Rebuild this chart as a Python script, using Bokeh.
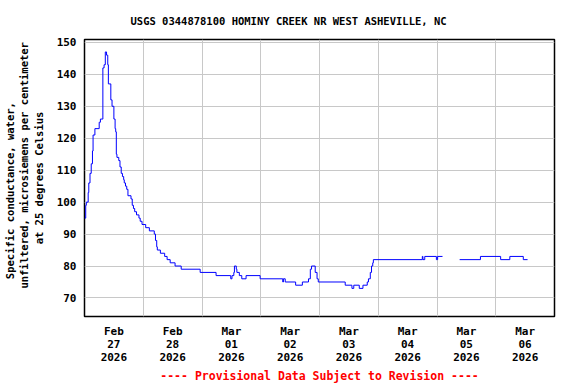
import numpy as np
import pandas as pd
from bokeh.plotting import figure
from bokeh.models import FixedTicker, Range1d, Title, ColumnDataSource
from bokeh.embed import file_html
from bokeh.resources import INLINE

TITLE = "USGS 0344878100 HOMINY CREEK NR WEST ASHEVILLE, NC"
Y_LABEL_LINES = ["Specific conductance, water,",
                 "unfiltered, microsiemens per centimeter",
                 "at 25 degrees Celsius"]
FOOTER = "---- Provisional Data Subject to Revision ----"

day_labels = ["Feb\n27\n2026", "Feb\n28\n2026", "Mar\n01\n2026", "Mar\n02\n2026",
              "Mar\n03\n2026", "Mar\n04\n2026", "Mar\n05\n2026", "Mar\n06\n2026"]
y_ticks = [70, 80, 90, 100, 110, 120, 130, 140, 150]

times = [
    "2026-02-27 00:00", "2026-02-27 00:30", "2026-02-27 00:45", "2026-02-27 01:30",
    "2026-02-27 01:45", "2026-02-27 02:15", "2026-02-27 02:45", "2026-02-27 03:15",
    "2026-02-27 03:30", "2026-02-27 04:15", "2026-02-27 06:00", "2026-02-27 06:30",
    "2026-02-27 07:30", "2026-02-27 08:00", "2026-02-27 08:30", "2026-02-27 09:00",
    "2026-02-27 09:30", "2026-02-27 09:45", "2026-02-27 10:45", "2026-02-27 11:15",
    "2026-02-27 12:00", "2026-02-27 12:30", "2026-02-27 12:45", "2026-02-27 13:00",
    "2026-02-27 13:15", "2026-02-27 14:00", "2026-02-27 14:30", "2026-02-27 15:00",
    "2026-02-27 15:30", "2026-02-27 16:00", "2026-02-27 16:15", "2026-02-27 16:45",
    "2026-02-27 17:15", "2026-02-27 17:45", "2026-02-27 19:00", "2026-02-27 19:30",
    "2026-02-27 20:00", "2026-02-27 20:30", "2026-02-27 21:15", "2026-02-27 22:15",
    "2026-02-27 22:45", "2026-02-27 23:30", "2026-02-28 01:00", "2026-02-28 02:30",
    "2026-02-28 04:30", "2026-02-28 05:00", "2026-02-28 05:30", "2026-02-28 05:45",
    "2026-02-28 07:00", "2026-02-28 08:45", "2026-02-28 09:45", "2026-02-28 11:00",
    "2026-02-28 13:00", "2026-02-28 15:30", "2026-02-28 23:15", "2026-03-01 05:45",
    "2026-03-01 11:45", "2026-03-01 12:15", "2026-03-01 13:00", "2026-03-01 13:15",
    "2026-03-01 14:00", "2026-03-01 14:15", "2026-03-01 15:15", "2026-03-01 16:15",
    "2026-03-01 18:00", "2026-03-01 23:45", "2026-03-02 09:00", "2026-03-02 09:15",
    "2026-03-02 10:00", "2026-03-02 14:15", "2026-03-02 17:00", "2026-03-02 19:30",
    "2026-03-02 20:15", "2026-03-02 20:45", "2026-03-02 22:15", "2026-03-02 23:00",
    "2026-03-02 23:30", "2026-03-03 10:30", "2026-03-03 13:15", "2026-03-03 14:00",
    "2026-03-03 16:15", "2026-03-03 17:45", "2026-03-03 19:30", "2026-03-03 20:00",
    "2026-03-03 20:45", "2026-03-03 21:15", "2026-03-03 21:45", "2026-03-03 22:00",
    "2026-03-04 18:00", "2026-03-04 18:15", "2026-03-04 19:00", "2026-03-04 23:45",
    "2026-03-05 00:15", "2026-03-05 02:15", "2026-03-05 05:00", "2026-03-05 09:15",
    "2026-03-05 17:45", "2026-03-06 02:00", "2026-03-06 05:45", "2026-03-06 11:15",
    "2026-03-06 13:00",
]
values = [
    95, 99, 100, 103,
    106, 109, 112, 116,
    121, 123, 125, 126,
    142, 143, 147, 146,
    143, 137, 132, 130,
    126, 123, 122, 115,
    114, 113, 111, 109,
    108, 107, 106, 105,
    104, 102, 101, 99,
    98, 97, 96, 95,
    94, 93, 92, 91,
    90, 88, 86, 85,
    84, 83, 82, 81,
    80, 79, 78, 77,
    76, 77, 78, 80,
    79, 78, 77, 76,
    77, 76, 75, 76,
    75, 74, 75, 76,
    79, 80, 78, 76,
    75, 74, 73, 74,
    73, 74, 75, 76,
    78, 80, 81, 82,
    83, 82, 83, 82,
    83, 83, np.nan, 82,
    83, 82, 83, 82,
    82,
]

t = pd.to_datetime(times)
v = np.array(values, dtype=float)

x_start = pd.Timestamp("2026-02-27 00:00")
x_end = pd.Timestamp("2026-03-07 00:00")
midnights = pd.date_range(x_start, x_end, freq="D")
noons = midnights[:-1] + pd.Timedelta(hours=12)
to_ms = lambda ts: int(ts.value // 10**6)

FONT = "DejaVu Sans Mono"
NB = "\u00a0"

p = figure(width=576, height=384, x_axis_type="datetime",
           x_range=Range1d(x_start, x_end), y_range=Range1d(64.2, 150.9),
           output_backend="svg", toolbar_location=None,
           min_border_left=84, min_border_right=22,
           min_border_top=39, min_border_bottom=68)

# title
p.title.text = TITLE
p.title.align = "left"
p.title.offset = 46
p.title.text_font = FONT
p.title.text_font_size = "10.5px"
p.title.text_font_style = "bold"
p.title.text_color = "black"
p.title.standoff = 25

p.add_layout(Title(text=FOOTER, align="center", text_color="#ff0000",
                   text_font=FONT, text_font_size="11.5px",
                   text_font_style="bold", standoff=0), "below")

# split at gaps
seg_ids = np.cumsum(np.isnan(v))
for sid in np.unique(seg_ids):
    m = (seg_ids == sid) & ~np.isnan(v)
    if m.sum() < 2:
        continue
    src = ColumnDataSource(dict(t=t[m], v=v[m]))
    p.step("t", "v", source=src, mode="after", line_color="#0000ff", line_width=1)

# axes
p.xaxis.ticker = FixedTicker(ticks=[to_ms(n) for n in noons])
p.xaxis.major_label_overrides = {to_ms(n): lab for n, lab in zip(noons, day_labels)}
p.xaxis.major_label_text_line_height = 1.0
p.yaxis.ticker = FixedTicker(ticks=y_ticks)

# y-axis title: three lines, nudged along the axis with non-breaking spaces
p.yaxis.axis_label = "\n".join([
    Y_LABEL_LINES[0] + NB * 4,
    NB * 4 + Y_LABEL_LINES[1],
    Y_LABEL_LINES[2],
])
p.yaxis.axis_label_standoff = 9
p.yaxis.axis_label_text_font = FONT
p.yaxis.axis_label_text_font_size = "10.5px"
p.yaxis.axis_label_text_font_style = "bold"
p.yaxis.axis_label_text_color = "black"

for ax in (p.xaxis, p.yaxis):
    ax.major_label_text_font = FONT
    ax.major_label_text_font_size = "11px"
    ax.major_label_text_font_style = "bold"
    ax.major_label_text_color = "black"
    ax.major_tick_out = 0
    ax.major_tick_in = 0
    ax.minor_tick_out = 0
    ax.minor_tick_in = 0
    ax.axis_line_color = None
    ax.major_label_standoff = 8

p.xgrid.ticker = FixedTicker(ticks=[to_ms(m) for m in midnights])
p.ygrid.ticker = FixedTicker(ticks=y_ticks)
for g in (p.xgrid, p.ygrid):
    g.grid_line_color = "#c8c8c8"
    g.grid_line_width = 1

p.outline_line_color = "black"
p.outline_line_width = 1.5
p.background_fill_color = "white"
p.border_fill_color = "white"

open("out.html", "w").write(file_html(p, INLINE))
